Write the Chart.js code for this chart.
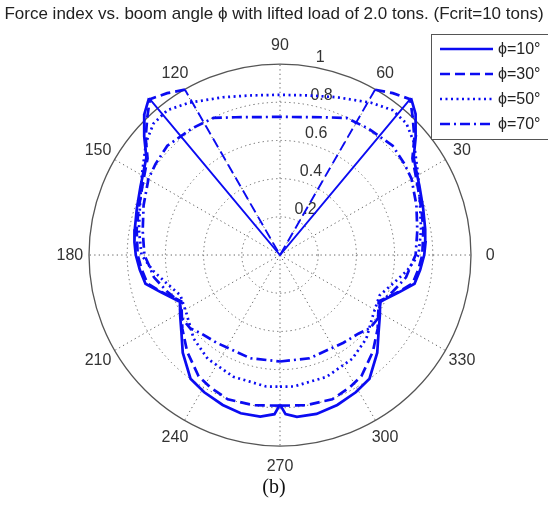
<!DOCTYPE html>
<html lang="en">
<head>
  <meta charset="UTF-8" />
  <title>Force index vs. boom angle</title>
  <script src="https://cdn.jsdelivr.net/npm/chart.js"></script>
  <style>
    body { margin: 0; background: #ffffff; }
    #polarChart { display: block; }
  </style>
</head>
<body>
  <canvas id="polarChart" width="548" height="512"></canvas>
  <script>
    // values: angle in degrees, force index
    const seriesLabels = ['ϕ=10°', 'ϕ=30°', 'ϕ=50°', 'ϕ=70°'];

    const angles10 = [-90, -88, -84, -77, -69, -61, -54, -45, -38, -31, -25, -17, -12, -6, 0, 5, 10, 18, 26, 32, 36, 41, 46, 50, 90,
      130, 134, 139, 144, 148, 154, 162, 170, 175, 180, 186, 192, 197, 205, 211, 218, 225, 234, 241, 249, 256, 263, 268, 270];
    const force10 = [0.78, 0.83, 0.848, 0.85, 0.837, 0.818, 0.797, 0.72, 0.655, 0.61, 0.578, 0.656, 0.72, 0.738, 0.755, 0.765, 0.772, 0.788, 0.813, 0.84, 0.865, 0.942, 1.022, 1.067, 0,
      1.067, 1.022, 0.942, 0.865, 0.84, 0.813, 0.788, 0.772, 0.765, 0.755, 0.738, 0.72, 0.656, 0.578, 0.61, 0.655, 0.72, 0.797, 0.818, 0.837, 0.85, 0.848, 0.83, 0.78];

    const angles30 = [-90, -80, -70, -62, -56, -46, -37, -31, -25, -17, -12, -6, 0, 10, 18, 26, 32, 36, 41, 46, 50, 55, 60, 90,
      120, 125, 130, 134, 139, 144, 148, 154, 162, 170, 180, 186, 192, 197, 205, 211, 217, 226, 236, 242, 250, 260, 270];
    const force30 = [0.785, 0.795, 0.8, 0.78, 0.762, 0.70, 0.64, 0.6, 0.57, 0.652, 0.71, 0.728, 0.745, 0.762, 0.778, 0.803, 0.832, 0.857, 0.932, 1.0, 1.06, 1.03, 0.995, 0,
      0.995, 1.03, 1.06, 1.0, 0.932, 0.857, 0.832, 0.803, 0.778, 0.762, 0.745, 0.728, 0.71, 0.652, 0.57, 0.6, 0.64, 0.70, 0.762, 0.78, 0.8, 0.795, 0.785];

    const angles50 = [-90, -84, -69, -55, -44, -32, -22, -14, -7, 0, 10, 20, 30, 40, 46, 52, 59, 70, 80, 90,
      100, 110, 121, 128, 134, 140, 150, 160, 170, 180, 187, 194, 202, 212, 224, 235, 249, 264, 270];
    const force50 = [0.686, 0.689, 0.68, 0.66, 0.628, 0.577, 0.562, 0.611, 0.67, 0.725, 0.75, 0.78, 0.835, 0.915, 0.953, 0.958, 0.926, 0.875, 0.845, 0.835,
      0.845, 0.875, 0.926, 0.958, 0.953, 0.915, 0.835, 0.78, 0.75, 0.725, 0.67, 0.611, 0.562, 0.577, 0.628, 0.66, 0.68, 0.689, 0.686];

    const angles70 = [-90, -74, -54, -45, -39, -33, -25, -18, -10, -4, 0, 10, 20, 30, 36, 44, 55, 64, 72, 80, 90,
      100, 108, 116, 125, 136, 144, 150, 160, 170, 180, 184, 190, 198, 205, 213, 219, 225, 234, 254, 270];
    const force70 = [0.555, 0.56, 0.565, 0.58, 0.606, 0.61, 0.58, 0.62, 0.67, 0.69, 0.71, 0.73, 0.76, 0.795, 0.806, 0.82, 0.805, 0.795, 0.755, 0.73, 0.72,
      0.73, 0.755, 0.795, 0.805, 0.82, 0.806, 0.795, 0.76, 0.73, 0.71, 0.69, 0.67, 0.62, 0.58, 0.61, 0.606, 0.58, 0.565, 0.56, 0.555];

    const radialTicks = [0.2, 0.4, 0.6, 0.8, 1];
    const radialTickLabels = ['0.2', '0.4', '0.6', '0.8', '1'];
    const spokeAngles = [0, 30, 60, 90, 120, 150, 180, 210, 240, 270, 300, 330];
    const spokeLabels = ['0', '30', '60', '90', '120', '150', '180', '210', '240', '270', '300', '330'];

    const blue = '#0b0bf2';
    const sansFont = '"Liberation Sans", Arial, sans-serif';

    function toXY(angles, radii) {
      return angles.map((a, i) => {
        const t = a * Math.PI / 180;
        return { x: radii[i] * Math.cos(t), y: radii[i] * Math.sin(t) };
      });
    }

    const atOrigin = p => p.parsed.x === 0 && p.parsed.y === 0;

    function series(label, angles, radii, dash) {
      return {
        label,
        data: toXY(angles, radii),
        showLine: true,
        borderColor: blue,
        backgroundColor: blue,
        borderWidth: 2.7,
        borderDash: dash,
        pointRadius: 0,
        tension: 0,
        clip: false,
        // the straight strokes into the origin look thinner than the curves
        segment: {
          borderWidth: ctx => (atOrigin(ctx.p0) || atOrigin(ctx.p1)) ? 1.9 : 2.7
        }
      };
    }

    // rings, spokes and labels of the polar frame
    const polarGrid = {
      id: 'polarGrid',
      beforeDatasetsDraw(chart) {
        const { ctx, scales: { x, y } } = chart;
        const cx = x.getPixelForValue(0);
        const cy = y.getPixelForValue(0);
        const unit = x.getPixelForValue(1) - cx;
        const rMax = radialTicks[radialTicks.length - 1];
        ctx.save();
        ctx.strokeStyle = '#666666';
        ctx.lineWidth = 1;
        ctx.setLineDash([1.3, 3.2]);
        radialTicks.slice(0, -1).forEach(r => {
          ctx.beginPath();
          ctx.arc(cx, cy, r * unit, 0, Math.PI * 2);
          ctx.stroke();
        });
        spokeAngles.forEach(a => {
          const t = a * Math.PI / 180;
          ctx.beginPath();
          ctx.moveTo(cx, cy);
          ctx.lineTo(cx + rMax * unit * Math.cos(t), cy - rMax * unit * Math.sin(t));
          ctx.stroke();
        });
        ctx.setLineDash([]);
        ctx.strokeStyle = '#555555';
        ctx.lineWidth = 1.3;
        ctx.beginPath();
        ctx.arc(cx, cy, rMax * unit, 0, Math.PI * 2);
        ctx.stroke();

        ctx.fillStyle = '#333333';
        ctx.font = '16px ' + sansFont;
        ctx.textAlign = 'center';
        ctx.textBaseline = 'middle';
        spokeAngles.forEach((a, i) => {
          const t = a * Math.PI / 180;
          ctx.fillText(spokeLabels[i], cx + 1.1 * rMax * unit * Math.cos(t), cy - 1.1 * rMax * unit * Math.sin(t) + 1);
        });

        const t82 = 82 * Math.PI / 180;
        ctx.textAlign = 'left';
        ctx.textBaseline = 'bottom';
        radialTicks.forEach((r, i) => {
          const rr = (r + 0.01) * unit;
          ctx.fillText('  ' + radialTickLabels[i], cx + rr * Math.cos(t82), cy - rr * Math.sin(t82) + 2);
        });
        ctx.restore();
      }
    };

    // boxed legend in the top right corner
    const boxLegend = {
      id: 'boxLegend',
      afterDraw(chart) {
        const { ctx } = chart;
        ctx.save();
        ctx.fillStyle = '#ffffff';
        ctx.fillRect(431, 34, 130, 106);
        ctx.strokeStyle = '#555555';
        ctx.lineWidth = 1;
        ctx.strokeRect(431.5, 34.5, 130, 105);
        chart.data.datasets.forEach((ds, i) => {
          const ly = 49 + i * 25;
          ctx.strokeStyle = ds.borderColor;
          ctx.lineWidth = ds.borderWidth;
          ctx.setLineDash(ds.borderDash);
          ctx.beginPath();
          ctx.moveTo(440, ly);
          ctx.lineTo(493, ly);
          ctx.stroke();
          ctx.setLineDash([]);
          ctx.fillStyle = '#222222';
          ctx.font = '16px ' + sansFont;
          ctx.textAlign = 'left';
          ctx.textBaseline = 'middle';
          ctx.fillText(ds.label, 498, ly + 1);
        });
        ctx.restore();
      }
    };

    const chart = new Chart(document.getElementById('polarChart'), {
      type: 'scatter',
      data: {
        datasets: [
          series(seriesLabels[0], angles10, force10, []),
          series(seriesLabels[1], angles30, force30, [10, 5]),
          series(seriesLabels[2], angles50, force50, [2, 3.5]),
          series(seriesLabels[3], angles70, force70, [10, 4, 2, 4])
        ]
      },
      options: {
        responsive: false,
        animation: false,
        events: [],
        layout: { padding: 0 },
        plugins: {
          legend: { display: false },
          tooltip: { enabled: false },
          title: {
            display: true,
            text: 'Force index vs. boom angle ϕ with lifted load of 2.0 tons. (Fcrit=10 tons)',
            color: '#222222',
            font: { family: sansFont, size: 17, weight: 'normal' },
            padding: { top: 4, bottom: 2 }
          },
          subtitle: {
            display: true,
            position: 'bottom',
            text: '(b)',
            color: '#111111',
            font: { family: '"Liberation Serif", "Times New Roman", serif', size: 20, weight: 'normal' },
            padding: { top: 4, bottom: 12 }
          }
        },
        scales: {
          x: { type: 'linear', display: false, min: -280 / 191, max: 268 / 191 },
          y: { type: 'linear', display: false, min: -216 / 191, max: 227.6 / 191 }
        }
      },
      plugins: [polarGrid, boxLegend]
    });
  </script>
</body>
</html>
